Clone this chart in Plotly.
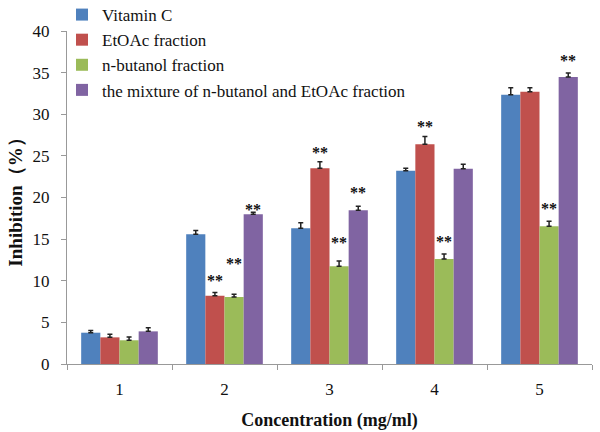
import plotly.graph_objects as go

categories = ["1", "2", "3", "4", "5"]
series_names = ["Vitamin C", "EtOAc fraction", "n-butanol fraction",
                "the mixture of n-butanol and EtOAc fraction"]
vitc = [3.76, 15.6, 16.3, 23.2, 32.35]
vitc_err = [0.25, 0.45, 0.67, 0.32, 0.84]
etoac = [3.2, 8.2, 23.5, 26.4, 32.7]
etoac_err = [0.37, 0.4, 0.8, 0.92, 0.48]
nbut = [2.85, 8.05, 11.73, 12.6, 16.54]
nbut_err = [0.39, 0.32, 0.64, 0.6, 0.6]
mix = [3.92, 17.98, 18.46, 23.46, 34.47]
mix_err = [0.44, 0.24, 0.5, 0.53, 0.48]
colors = ["#4F81BD", "#C0504D", "#9BBB59", "#8064A2"]

# significance marks: (series index, category index, pixel gap above error bar)
stars = [(1, 1, 17), (2, 1, 36), (3, 1, 8), (1, 2, 14), (2, 2, 24), (3, 2, 19),
         (1, 3, 15), (2, 3, 18), (2, 4, 18), (3, 4, 18)]

values = [vitc, etoac, nbut, mix]
errs = [vitc_err, etoac_err, nbut_err, mix_err]

font_family = "Liberation Serif, Times New Roman, serif"
fig = go.Figure()
for name, v, e, c in zip(series_names, values, errs, colors):
    fig.add_trace(go.Bar(
        x=categories, y=v, name=name, marker=dict(color=c, line=dict(width=0)),
        error_y=dict(type="data", array=e, arrayminus=[0]*len(e), symmetric=False,
                     color="#222222", thickness=1.5, width=2.5),
    ))

offsets = [-1.5, -0.5, 0.5, 1.5]
for s, ci, gap in stars:
    fig.add_annotation(
        x=ci, y=values[s][ci] + errs[s][ci], xref="x", yref="y",
        text="<b>**</b>", showarrow=False, yanchor="middle",
        xshift=offsets[s] * 19, yshift=gap - 5,
        font=dict(family=font_family, size=16, color="#111111"),
    )

fig.update_layout(
    width=600, height=432,
    margin=dict(l=67, r=8, t=31, b=68, autoexpand=False),
    paper_bgcolor="white", plot_bgcolor="white",
    barmode="group", bargap=0.27, bargroupgap=0,
    font=dict(family=font_family, size=17, color="#111111"),
    showlegend=True,
    legend=dict(x=-0.0095, y=1.102, xanchor="left", yanchor="top",
                bgcolor="rgba(0,0,0,0)", font=dict(size=17, family=font_family),
                tracegroupgap=0, itemwidth=30),
    xaxis=dict(type="category", range=[-0.5, 4.5], showline=True, linecolor="#999999",
               linewidth=1, ticks="outside", tickson="boundaries", ticklen=5,
               tickcolor="#999999", showgrid=False, tickfont=dict(size=17),
               ticklabelstandoff=10,
               title=dict(text="<b>Concentration (mg/ml)</b>", font=dict(size=18), standoff=14)),
    yaxis=dict(range=[0, 40], dtick=5, showline=True, linecolor="#999999", linewidth=1,
               ticks="outside", ticklen=5, tickcolor="#999999", showgrid=False,
               zeroline=False, tickfont=dict(size=17), ticklabelstandoff=8,
               title=dict(text="<b>Inhibition（%）</b>", font=dict(size=19), standoff=4)),
)

fig.write_html("out.html", config={"displayModeBar": False},
               post_script="document.body.style.margin='0';")
